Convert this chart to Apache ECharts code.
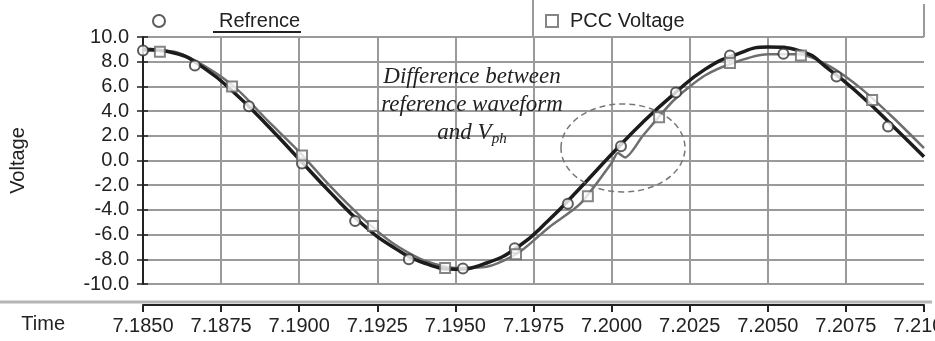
<!DOCTYPE html>
<html lang="en">
<head>
    <meta charset="UTF-8">
    <title>Refrence vs PCC Voltage</title>
    <script src="https://cdn.jsdelivr.net/npm/echarts@6/dist/echarts.min.js"></script>
    <style>
        html, body { margin: 0; padding: 0; background: #fff; }
    </style>
</head>
<body>
<div id="main" style="width: 935px;height:341px;"></div>
<script type="text/javascript">
    // curve samples (time in s, voltage)
    var refTime = [7.185, 7.186, 7.187, 7.188, 7.189, 7.190, 7.191, 7.192, 7.193, 7.194, 7.195, 7.196, 7.197,
        7.198, 7.199, 7.200, 7.201, 7.202, 7.203, 7.204, 7.205, 7.206, 7.207, 7.208, 7.209, 7.210];
    var refValues = [9.0, 8.7, 7.4, 5.3, 2.8, 0.1, -2.6, -5.1, -7.0, -8.3, -8.8, -8.3, -7.0,
        -4.8, -2.2, 0.5, 3.1, 5.4, 7.4, 8.6, 9.2, 8.9, 7.3, 5.2, 2.8, 0.3];

    var pccTime = [7.185, 7.186, 7.187, 7.188, 7.189, 7.190, 7.191, 7.192, 7.193, 7.194, 7.195, 7.196, 7.197,
        7.198, 7.199, 7.200, 7.2002, 7.20043, 7.201, 7.202, 7.203, 7.204, 7.205, 7.206, 7.207, 7.208, 7.209, 7.210];
    var pccValues = [8.9, 8.8, 7.6, 5.8, 3.2, 0.7, -2.1, -4.6, -6.7, -8.1, -8.7, -8.6, -7.5,
        -5.4, -3.5, -0.2, 0.6, 0.25, 2.0, 4.9, 6.9, 8.0, 8.6, 8.6, 7.6, 5.8, 3.5, 1.0];

    // marker points
    var refMarkTime = [7.1850, 7.18666, 7.18839, 7.19009, 7.19179, 7.19351, 7.19524, 7.19690,
        7.19860, 7.20030, 7.20206, 7.20379, 7.20550, 7.20720, 7.20885];
    var refMarkValues = [8.9, 7.7, 4.4, -0.25, -4.9, -8.0, -8.75, -7.1, -3.5, 1.15, 5.5, 8.5, 8.65, 6.8, 2.75];

    var pccMarkTime = [7.18554, 7.18785, 7.19009, 7.19236, 7.19467, 7.19694, 7.19924, 7.20152,
        7.20379, 7.20606, 7.20834];
    var pccMarkValues = [8.8, 6.0, 0.4, -5.3, -8.7, -7.6, -2.9, 3.5, 7.9, 8.5, 4.9];

    var legendNames = ['Refrence', 'PCC Voltage'];

    function pairs(xs, ys) {
        return xs.map(function (x, i) {
            return [x, ys[i]];
        });
    }

    var font = "'Liberation Sans', Arial, sans-serif";
    var serif = "'Liberation Serif', 'Times New Roman', serif";
    var textColor = '#222';
    var gridColor = '#9a9a9a';

    var myChart = echarts.init(document.getElementById('main'));

    var option = {
        animation: false,
        textStyle: { fontFamily: font },
        grid: { left: 143, right: 11, top: 37, bottom: 57, outerBoundsMode: 'none' },
        legend: [{
            data: [legendNames[0]],
            left: 147,
            top: 6,
            itemWidth: 12,
            itemHeight: 12,
            selectedMode: false,
            formatter: '{t|{name}}',
            textStyle: {
                color: textColor,
                fontSize: 20,
                fontFamily: font,
                rich: { t: { fontSize: 20, fontFamily: font, color: textColor, padding: [0, 0, 0, 49] } }
            }
        }, {
            data: [legendNames[1]],
            left: 540,
            top: 6,
            itemWidth: 12,
            itemHeight: 12,
            selectedMode: false,
            formatter: '{t|{name}}',
            textStyle: {
                color: textColor,
                fontSize: 20,
                fontFamily: font,
                rich: { t: { fontSize: 20, fontFamily: font, color: textColor, padding: [0, 0, 0, 7] } }
            }
        }],
        xAxis: {
            type: 'value',
            min: 7.185,
            max: 7.21,
            interval: 0.0025,
            offset: 21,
            name: 'Time',
            nameLocation: 'start',
            nameGap: 78,
            nameTextStyle: { fontSize: 20, color: textColor, verticalAlign: 'top', padding: [9, 0, 0, 0] },
            axisLine: { onZero: false, lineStyle: { color: '#222', width: 2 } },
            axisTick: { length: 7, lineStyle: { color: '#222', width: 2 } },
            axisLabel: {
                fontSize: 20,
                color: textColor,
                margin: 11,
                formatter: function (v) {
                    return v.toFixed(4);
                }
            },
            splitLine: { show: true, showMaxLine: false, lineStyle: { color: gridColor, width: 2 } }
        },
        yAxis: [{
            type: 'value',
            min: -10,
            max: 10,
            interval: 2,
            name: 'Voltage',
            nameLocation: 'middle',
            nameGap: 115,
            nameTextStyle: { fontSize: 20, color: textColor },
            axisLine: { show: true, onZero: false, lineStyle: { color: '#222', width: 2 } },
            axisTick: { show: true, length: 6, lineStyle: { color: '#222', width: 1.5 } },
            axisLabel: {
                fontSize: 20,
                color: textColor,
                margin: 14,
                formatter: function (v) {
                    return v.toFixed(1);
                }
            },
            splitLine: { show: true, lineStyle: { color: gridColor, width: 2 } }
        }, {
            // inner half of the crossing ticks
            type: 'value',
            position: 'left',
            min: -10,
            max: 10,
            interval: 2,
            axisLine: { show: false, onZero: false },
            axisTick: { show: true, inside: true, length: 5, lineStyle: { color: '#222', width: 1.5 } },
            axisLabel: { show: false },
            splitLine: { show: false }
        }],
        series: [{
            name: 'pccLine',
            type: 'line',
            data: pairs(pccTime, pccValues),
            smooth: 0.25,
            showSymbol: false,
            lineStyle: { color: '#6e6e6e', width: 2.5 },
            z: 2
        }, {
            name: 'refLine',
            type: 'line',
            data: pairs(refTime, refValues),
            smooth: true,
            showSymbol: false,
            lineStyle: { color: '#1c1c1c', width: 3.5 },
            z: 3
        }, {
            name: legendNames[0],
            type: 'scatter',
            data: pairs(refMarkTime, refMarkValues),
            symbol: 'emptyCircle',
            symbolSize: 10,
            itemStyle: { color: '#333', borderWidth: 1.5 },
            z: 4
        }, {
            name: legendNames[1],
            type: 'scatter',
            data: pairs(pccMarkTime, pccMarkValues),
            symbol: 'emptyRect',
            symbolSize: 10,
            itemStyle: { color: '#666', borderWidth: 1.5 },
            z: 4
        }],
        graphic: [
            // band above the time axis
            { type: 'line', shape: { x1: 0, y1: 302, x2: 932, y2: 302 }, style: { stroke: '#b5b5b5', lineWidth: 3 }, z: -1 },
            // legend box
            { type: 'line', shape: { x1: 533, y1: 0, x2: 533, y2: 37 }, style: { stroke: gridColor, lineWidth: 2 } },
            { type: 'line', shape: { x1: 924, y1: 4, x2: 924, y2: 37 }, style: { stroke: gridColor, lineWidth: 2 } },
            // underline under Refrence
            { type: 'line', shape: { x1: 213, y1: 32, x2: 301, y2: 32 }, style: { stroke: '#222', lineWidth: 2 } },
            // annotation
            {
                type: 'text',
                x: 472,
                y: 63,
                style: {
                    text: '{i|Difference between}\n{i|reference waveform}\n{i|and V}{s|ph}',
                    align: 'center',
                    verticalAlign: 'top',
                    rich: {
                        i: { fontFamily: serif, fontStyle: 'italic', fontSize: 23, lineHeight: 28, fill: '#222' },
                        s: { fontFamily: serif, fontStyle: 'italic', fontSize: 15, lineHeight: 28, verticalAlign: 'bottom', fill: '#222' }
                    }
                },
                z: 10
            },
            {
                type: 'ellipse',
                shape: { cx: 623, cy: 148, rx: 62, ry: 44 },
                style: { fill: 'none', stroke: '#777', lineWidth: 1.5, lineDash: [6, 4] },
                z: 10
            }
        ]
    };

    myChart.setOption(option);
</script>
</body>
</html>
